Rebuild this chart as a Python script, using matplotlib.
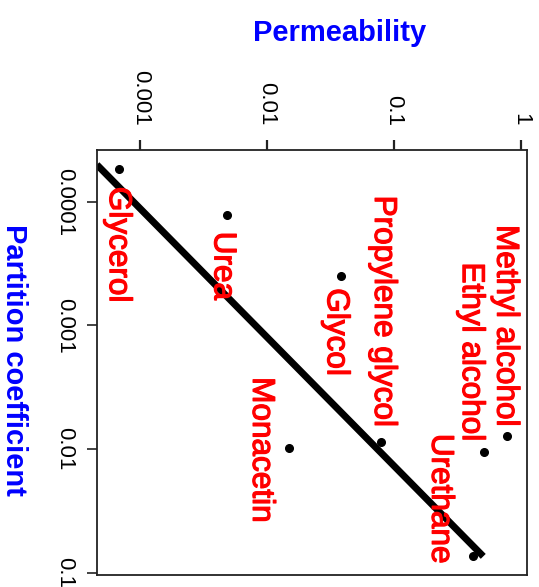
import numpy as np
import matplotlib.pyplot as plt
import matplotlib.patheffects as pe
from matplotlib.ticker import FixedLocator, NullLocator

plt.rcParams['font.family'] = ['Liberation Sans', 'DejaVu Sans']

compounds = ['Methyl alcohol', 'Ethyl alcohol', 'Urethane', 'Propylene glycol',
             'Glycol', 'Monacetin', 'Urea', 'Glycerol']
partition = [0.0078, 0.0106, 0.074, 0.0088, 0.0004, 0.0098, 0.000127, 0.000054]
permeability = [0.78, 0.51, 0.42, 0.079, 0.038, 0.0149, 0.0048, 0.00068]

# straight line in log-log: log10(perm) = fit_a + fit_b * log10(partition)
fit_a = 0.788
fit_b = 0.96
fit_range = [0.00005, 0.074]

perm_ticks = [0.001, 0.01, 0.1, 1]
perm_ticklabels = ['0.001', '0.01', '0.1', '1']
part_ticks = [0.0001, 0.001, 0.01, 0.1]
part_ticklabels = ['0.0001', '0.001', '0.01', '0.1']

# label placement (pixel offsets from the dot, alignment along the text)
label_pos = {
    'Methyl alcohol': (-10, 9, 'right'),
    'Ethyl alcohol': (-21, 11, 'right'),
    'Urethane': (-41, -7, 'right'),
    'Propylene glycol': (-6, 15, 'right'),
    'Glycol': (-13, -12, 'left'),
    'Monacetin': (-36, -2, 'center'),
    'Urea': (-12, -17, 'left'),
    'Glycerol': (-9, -18, 'left'),
}

fig = plt.figure(figsize=(5.39, 5.87), dpi=100)
ax = fig.add_axes([97 / 539, 1 - 575 / 587, 430 / 539, 425 / 587])

# the whole chart is turned a quarter turn clockwise:
# permeability runs left->right, partition coefficient runs top->bottom
ax.set_xscale('log')
ax.set_yscale('log')
ax.set_xlim(10 ** -3.34, 10 ** 0.047)
ax.set_ylim(10 ** -0.98, 10 ** -4.42)

k_line = np.array(fit_range)
p_line = 10 ** (fit_a + fit_b * np.log10(k_line))
ax.plot(p_line, k_line, color='black', lw=5, solid_capstyle='butt', zorder=2)

ax.plot(permeability, partition, 'o', color='black', ms=5.5, zorder=3)

for name, p, k in zip(compounds, permeability, partition):
    dx, dy, ha = label_pos[name]
    ax.annotate(name, (p, k), xytext=(dx, dy), textcoords='offset pixels',
                rotation=-90, rotation_mode='anchor', ha=ha, va='baseline',
                color='red', fontsize=22.7,
                path_effects=[pe.withStroke(linewidth=0.9, foreground='red')])

ax.xaxis.tick_top()
ax.xaxis.set_major_locator(FixedLocator(perm_ticks))
ax.xaxis.set_minor_locator(NullLocator())
ax.set_xticklabels(perm_ticklabels)
ax.yaxis.set_major_locator(FixedLocator(part_ticks))
ax.yaxis.set_minor_locator(NullLocator())
ax.set_yticklabels(part_ticklabels)

ax.tick_params(axis='x', length=7, width=1.6, pad=10.5, labelsize=16,
               labelrotation=-90, color='#222222')
ax.tick_params(axis='y', length=7, width=1.2, pad=8.5, labelsize=16,
               labelrotation=-90, color='#222222')
for lab in ax.get_yticklabels():
    lab.set_va('center')

for s in ax.spines.values():
    s.set_linewidth(1.3)
    s.set_color('#222222')

fig.text(340 / 539, 1 - 33 / 587, 'Permeability', color='blue',
         fontsize=21, fontweight='bold', ha='center', va='center')
fig.text(14 / 539, 1 - 360 / 587, 'Partition coefficient', color='blue',
         fontsize=21, fontweight='bold', ha='center', va='center', rotation=-90)

fig.savefig('out.png', dpi=100)
